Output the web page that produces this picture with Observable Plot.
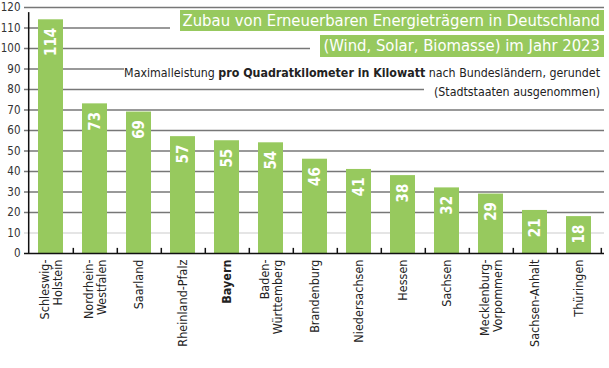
<!DOCTYPE html>
<html><head><meta charset="utf-8">
<script src="https://cdn.jsdelivr.net/npm/d3@7"></script>
<script src="https://cdn.jsdelivr.net/npm/@observablehq/plot@0.6"></script>
<style>
body{margin:0;background:#fff;}
#wrap{position:relative;width:609px;height:368px;overflow:hidden;font-family:"DejaVu Sans Condensed",sans-serif;}
.box{position:absolute;background:#fff;white-space:nowrap;}
.green{display:inline-block;background:#97c95e;color:#fff;padding:0 3px;}
</style></head><body><div id="wrap"></div>
<script>
const states = ["Schleswig-\nHolstein","Nordrhein-\nWestfalen","Saarland","Rheinland-Pfalz","Bayern","Baden-\nWürttemberg","Brandenburg","Niedersachsen","Hessen","Sachsen","Mecklenburg-\nVorpommern","Sachsen-Anhalt","Thüringen"];
const values = [114,73,69,57,55,54,46,41,38,32,29,21,18];
const yTicks = [0,10,20,30,40,50,60,70,80,90,100,110,120];
const highlight = "Bayern";
const titleLines = ["Zubau von Erneuerbaren Energieträgern in Deutschland","(Wind, Solar, Biomasse) im Jahr 2023"];
const subtitleParts = ["Maximalleistung ","pro Quadratkilometer in Kilowatt"," nach Bundesländern, gerundet"];
const subtitle2 = "(Stadtstaaten ausgenommen)";

const data = states.map((s,i)=>({state:s, value:values[i]}));
const W = 609, H = 368, mL = 24, mR = 5, mT = 7, mB = 115;
const step = (W - mL - mR) / states.length;
const green = "#97c95e";
const font = "DejaVu Sans Condensed, sans-serif";

const chart = Plot.plot({
  width: W, height: H,
  marginLeft: mL, marginRight: mR, marginTop: mT, marginBottom: mB,
  style: {fontFamily: font, background: "#fff", overflow: "visible"},
  x: {domain: states, paddingInner: 0.44, paddingOuter: 0.22, axis: null},
  y: {domain: [0,120], axis: null},
  marks: [
    Plot.ruleY(yTicks.filter(d=>d>=20), {stroke:"#777", strokeWidth:1.3}),
    Plot.ruleY(yTicks.filter(d=>d===10), {stroke:"#ccc", strokeWidth:1.2}),
    Plot.barY(data, {x:"state", y:"value", fill: green}),
    Plot.text(data, {x:"state", y:"value", text:d=>String(d.value), rotate:-90, textAnchor:"end", lineAnchor:"middle", dy:8, fill:"#fff", fontWeight:"bold", fontSize:15}),
    Plot.ruleY([0], {stroke:"#111", strokeWidth:1.6}),
    Plot.ruleX(states, {x:d=>d, y1:0, y2:2.5, dx: step/2, stroke:"#111", strokeWidth:1.5}),
    Plot.ruleX([states[0]], {x:d=>d, y1:0, y2:117.5, dx: -step/2, stroke:"#111", strokeWidth:1.5}),
    Plot.axisY(yTicks, {tickSize:0, tickPadding:4, fontSize:11.5, fill:"#333", label:null}),
    Plot.text(states.filter(s=>s!==highlight), {x:d=>d, y:()=>0, text:d=>d, rotate:-90, textAnchor:"end", lineAnchor:"middle", lineHeight:1.05, dy:6, fontSize:12.5, fill:"#222"}),
    Plot.text(states.filter(s=>s===highlight), {x:d=>d, y:()=>0, text:d=>d, rotate:-90, textAnchor:"end", lineAnchor:"middle", dy:6, fontSize:12.5, fontWeight:"bold", fill:"#222"})
  ]
});
const wrap = document.getElementById("wrap");
wrap.appendChild(chart);

function addBox(top, right, html, padLeft, padRight){
  const d = document.createElement("div");
  d.className = "box";
  d.style.top = top + "px"; d.style.right = right + "px";
  d.style.paddingLeft = padLeft + "px";
  d.style.paddingRight = padRight + "px";
  d.innerHTML = html;
  wrap.appendChild(d);
  return d;
}
addBox(10, 5, `<span class="green" style="font-size:16.5px;line-height:21px;height:21px;padding-right:4px">${titleLines[0]}</span>`, 10, 0);
addBox(35, 5, `<span class="green" style="font-size:16.5px;line-height:22px;height:22px;padding-right:4px">${titleLines[1]}</span>`, 10, 0);
addBox(62, 4, `<span style="font-size:12.3px;line-height:17px;color:#222">${subtitleParts[0]}<b>${subtitleParts[1]}</b>${subtitleParts[2]}</span>`, 0, 5);
addBox(81, 4, `<span style="font-size:12.3px;line-height:17px;color:#222">${subtitle2}</span>`, 10, 5);
</script></body></html>
